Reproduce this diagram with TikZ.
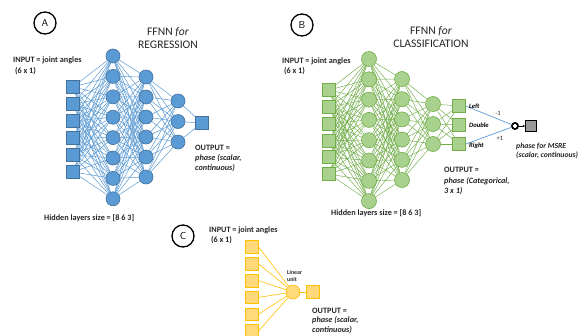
\documentclass[tikz,border=0pt]{standalone}
\usepackage{fontspec}
\setmainfont{Carlito}
\usetikzlibrary{backgrounds,arrows.meta,calc}
\definecolor{blueF}{HTML}{5B9BD5}
\definecolor{blueD}{HTML}{41719C}
\definecolor{greenF}{HTML}{A9D18E}
\definecolor{greenD}{HTML}{70AD47}
\definecolor{orF}{HTML}{FFD97A}
\definecolor{orD}{HTML}{FFC000}
\definecolor{txt}{HTML}{262626}
\tikzset{
  bsq/.style={rectangle, draw=blueD, fill=blueF, minimum size=13pt, inner sep=0pt, line width=0.6pt},
  bci/.style={circle, draw=blueD, fill=blueF, minimum size=14pt, inner sep=0pt, line width=0.6pt},
  gsq/.style={rectangle, draw=greenD, fill=greenF, minimum size=13pt, inner sep=0pt, line width=0.6pt},
  gci/.style={circle, draw=greenD, fill=greenF, minimum size=15pt, inner sep=0pt, line width=0.6pt},
  osq/.style={rectangle, draw=orD, fill=orF, minimum size=12.5pt, inner sep=0pt, line width=0.6pt},
  oci/.style={circle, draw=orD, fill=orF, minimum size=14pt, inner sep=0pt, line width=0.6pt},
  bl/.style={draw=blueF, line width=0.5pt},
  gl/.style={draw=greenD, line width=0.45pt},
  ol/.style={draw=orD, line width=0.6pt},
  lbl/.style={anchor=west, inner sep=0pt, font=\fontsize{8.2}{9}\selectfont\bfseries, text=txt},
  ilbl/.style={anchor=west, inner sep=0pt, font=\fontsize{8.2}{9}\selectfont\bfseries\itshape, text=txt},
  slbl/.style={anchor=west, inner sep=0pt, font=\fontsize{7.7}{9}\selectfont\bfseries\itshape, text=txt},
  ttl/.style={inner sep=0pt, font=\fontsize{11.6}{12}\selectfont, text=txt},
  letter/.style={circle, draw=black, line width=1.3pt, minimum size=22pt, inner sep=0pt, font=\sffamily\fontsize{10}{10}\selectfont},
  cls/.style={anchor=west, inner sep=0pt, font=\fontsize{6.6}{7}\selectfont\bfseries\itshape},
}
\begin{document}
\begin{tikzpicture}[x=1pt,y=-1pt]
\useasboundingbox (0,0) rectangle (578,335);
\begin{scope}[on background layer]
\fill[white] (0,0) rectangle (578,335);
\end{scope}

% ---------------- Panel A ----------------
\node[letter] (LA) at (45,23) {A};
\node[ttl] (tA1) at (168,32) {FFNN \textit{for}};
\node[ttl] (tA2) at (168,45) {REGRESSION};
\node[lbl] (inA1) at (13,60) {INPUT = joint angles};
\node[lbl] (inA2) at (13,71) {\ (6 x 1)};
\foreach \i in {1,...,6} \node[bsq] (ai\i) at (73,{87+17*(\i-1)}) {};
\foreach \i in {1,...,8} \node[bci] (ah\i) at (113,{56+20.4*(\i-1)}) {};
\foreach \i in {1,...,6} \node[bci] (ak\i) at (146,{77+20*(\i-1)}) {};
\foreach \i in {1,...,3} \node[bci] (am\i) at (178,{101+20.5*(\i-1)}) {};
\node[bsq] (ao) at (202,123) {};
\begin{scope}[on background layer]
\foreach \i in {1,...,6} \foreach \j in {1,...,8} \draw[bl] (ai\i) -- (ah\j);
\foreach \i in {1,...,8} \foreach \j in {1,...,6} \draw[bl] (ah\i) -- (ak\j);
\foreach \i in {1,...,6} \foreach \j in {1,...,3} \draw[bl] (ak\i) -- (am\j);
\foreach \i in {1,...,3} \draw[bl] (am\i) -- (ao);
\end{scope}
\node[lbl] (oA1) at (195,148) {OUTPUT =};
\node[ilbl] (oA2) at (195,158) {phase (scalar,};
\node[ilbl] (oA3) at (195,168) {continuous)};
\node[lbl] (hA) at (44,218) {Hidden layers size = [8 6 3]};

% ---------------- Panel B ----------------
\node[letter] (LB) at (302,25) {B};
\node[ttl] (tB1) at (431,31) {FFNN \textit{for}};
\node[ttl] (tB2) at (431,44) {CLASSIFICATION};
\node[lbl] (inB1) at (282,61) {INPUT = joint angles};
\node[lbl] (inB2) at (282,71) {\ (6 x 1)};
\foreach \i in {1,...,6} \node[gsq] (bi\i) at (329,{90+16.8*(\i-1)}) {};
\foreach \i in {1,...,8} \node[gci] (bh\i) at (369,{59+20.3*(\i-1)}) {};
\foreach \i in {1,...,6} \node[gci] (bk\i) at (402,{79+20.2*(\i-1)}) {};
\foreach \i in {1,...,3} \node[gci] (bm\i) at (433,{104+20*(\i-1)}) {};
\foreach \i in {1,...,3} \node[gsq] (bo\i) at (459,{106+19*(\i-1)}) {};
\begin{scope}[on background layer]
\foreach \i in {1,...,6} \foreach \j in {1,...,8} \draw[gl] (bi\i) -- (bh\j);
\foreach \i in {1,...,8} \foreach \j in {1,...,6} \draw[gl] (bh\i) -- (bk\j);
\foreach \i in {1,...,6} \foreach \j in {1,...,3} \draw[gl] (bk\i) -- (bm\j);
\foreach \i in {1,...,3} \foreach \j in {1,...,3} \draw[gl] (bm\i) -- (bo\j);
\end{scope}
\node[circle, fill=black, minimum size=8pt, inner sep=0pt] (sum) at (515,126) {};
\draw[white, line width=1.2pt] ($(sum)+(-2.3,0)$) -- ($(sum)+(2.3,0)$) ($(sum)+(0,-2.3)$) -- ($(sum)+(0,2.3)$);
\node[rectangle, draw=black, fill=gray!80, minimum size=11pt, inner sep=0pt, line width=0.6pt] (msre) at (531,126) {};
\draw[blueF, line width=0.7pt] (bo1.east) -- (sum);
\draw[blueF, line width=0.7pt] (bo3.east) -- (sum);
\draw[-{Latex[length=2pt,width=2pt]}, line width=0.6pt] (sum) -- (msre);
\node[cls] (cL) at (469,106) {Left};
\node[cls] (cD) at (469,125) {Double};
\node[cls] (cR) at (469,146) {Right};
\node[inner sep=0pt, font=\fontsize{6.5}{7}\selectfont, text=txt] (m1) at (498,113) {-1};
\node[inner sep=0pt, font=\fontsize{6.5}{7}\selectfont, text=txt] (p1) at (500,138) {+1};
\node[slbl] (ms1) at (516,146) {phase for MSRE};
\node[slbl] (ms2) at (516,155) {(scalar, continuous)};
\node[lbl] (oB1) at (444,170) {OUTPUT =};
\node[ilbl] (oB2) at (444,181) {phase (Categorical,};
\node[ilbl] (oB3) at (444,191) {3 x 1)};
\node[lbl] (hB) at (331,213) {Hidden layers size = [8 6 3]};

% ---------------- Panel C ----------------
\node[letter] (LC) at (183,236) {C};
\node[lbl] (inC1) at (209,230) {INPUT = joint angles};
\node[lbl] (inC2) at (209,240) {\ (6 x 1)};
\foreach \i in {1,...,6} \node[osq] (ci\i) at (252,{247+16.8*(\i-1)}) {};
\node[oci] (cu) at (293,292) {};
\node[osq] (co) at (313,292) {};
\begin{scope}[on background layer]
\foreach \i in {1,...,6} \draw[ol] (ci\i.east) -- (cu);
\draw[ol] (cu) -- (co);
\end{scope}
\node[inner sep=0pt, font=\fontsize{5.8}{6}\selectfont\bfseries, text=txt, align=left, anchor=west] (lu) at (287,276) {Linear\\[1pt]unit};
\node[lbl] (oC1) at (312,311) {OUTPUT =};
\node[ilbl] (oC2) at (312,320) {phase (scalar,};
\node[ilbl] (oC3) at (312,330) {continuous)};
\end{tikzpicture}
\end{document}
